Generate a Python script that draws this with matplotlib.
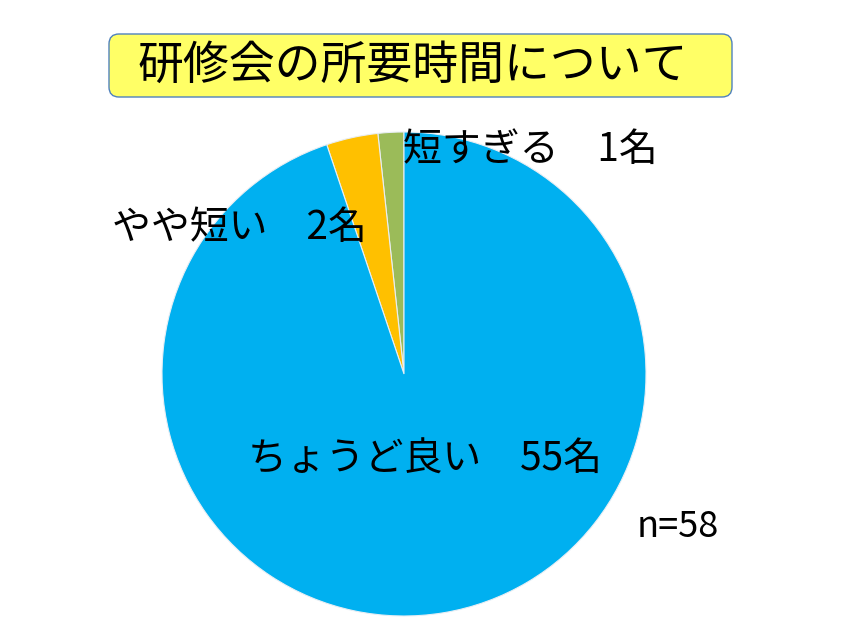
import matplotlib
matplotlib.use("Agg")
import matplotlib.pyplot as plt
from matplotlib.patches import FancyBboxPatch

plt.rcParams['font.family'] = ['Noto Sans CJK JP', 'DejaVu Sans']

title = "研修会の所要時間について"
categories = ["短すぎる", "やや短い", "ちょうど良い"]
counts = [1, 2, 55]
colors = ["#9BBB59", "#FFC000", "#00B0F0"]
total_label = "n=58"

W, H = 853, 640
fig = plt.figure(figsize=(W / 100, H / 100), dpi=100)
ax = fig.add_axes([0, 0, 1, 1])

cx, cy, r = 404, H - 374, 242
ax.pie(counts, colors=colors, startangle=90, counterclock=True,
       center=(cx, cy), radius=r, frame=True,
       wedgeprops=dict(edgecolor='#E8EEF4', linewidth=0.8))
ax.set_xlim(0, W)
ax.set_ylim(0, H)
ax.set_aspect('equal')
ax.axis('off')

# title box
box = FancyBboxPatch((109, H - 97), 623, 63,
                     boxstyle="round,pad=0,rounding_size=10",
                     facecolor="#FFFF66", edgecolor="#4F81BD", linewidth=1.0)
ax.add_patch(box)
ax.text(138, H - 66, title, fontsize=33, va='center', ha='left', color='black')

labels = [f"{c}\u3000{n}名" for c, n in zip(categories, counts)]
pos = [(403, H - 150), (112, H - 228), (248, H - 460)]
for lab, (x, y) in zip(labels, pos):
    ax.text(x, y, lab, fontsize=28, va='center', ha='left', color='black')

ax.text(637, H - 527, total_label, fontsize=26, va='center', ha='left', color='black')

fig.savefig("out.png", dpi=100)
